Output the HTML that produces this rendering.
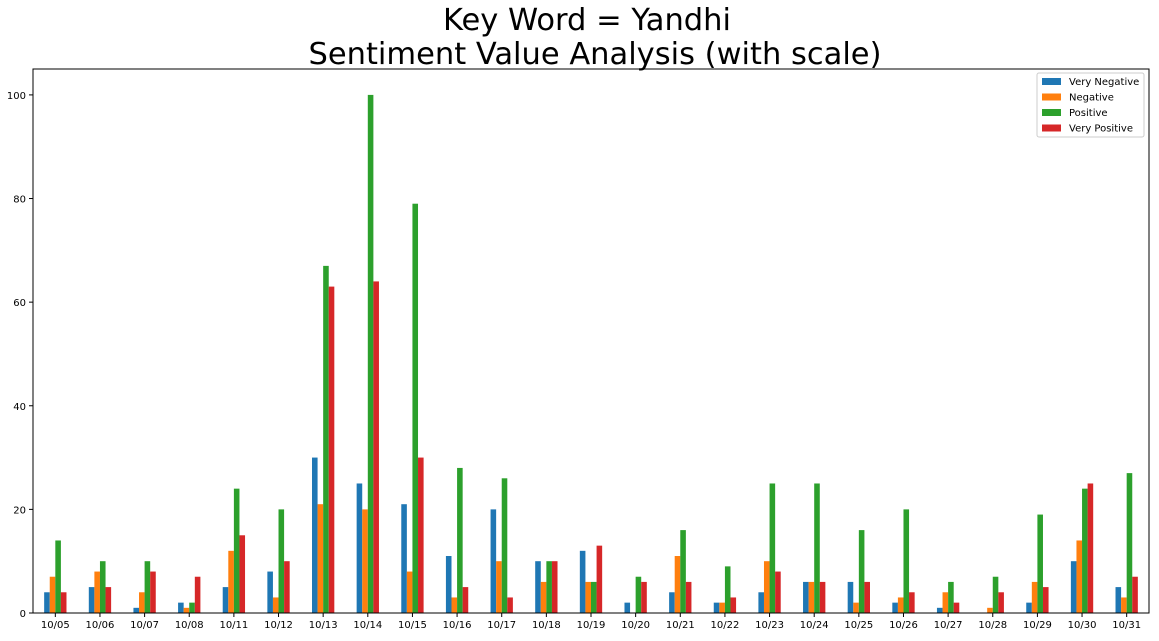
<!DOCTYPE html>
<html><head><meta charset="utf-8"><style>
body{margin:0;background:#fff;font-family:"DejaVu Sans","Liberation Sans",sans-serif;}
</style></head><body>
<svg id="chart" width="1159" height="637" xmlns="http://www.w3.org/2000/svg" font-family="DejaVu Sans, Liberation Sans, sans-serif">
<text x="587" y="30" font-size="30.5" text-anchor="middle">Key Word = Yandhi</text>
<text x="595" y="64" font-size="30.5" text-anchor="middle">Sentiment Value Analysis (with scale)</text>
<g id="bars"></g>
<g id="axes"></g>
</svg>
<script>
const categories=["10/05","10/06","10/07","10/08","10/11","10/12","10/13","10/14","10/15","10/16","10/17","10/18","10/19","10/20","10/21","10/22","10/23","10/24","10/25","10/26","10/27","10/28","10/29","10/30","10/31"];
const veryNegative=[4,5,1,2,5,8,30,25,21,11,20,10,12,2,4,2,4,6,6,2,1,0,2,10,5];
const negative=[7,8,4,1,12,3,21,20,8,3,10,6,6,0,11,2,10,6,2,3,4,1,6,14,3];
const positive=[14,10,10,2,24,20,67,100,79,28,26,10,6,7,16,9,25,25,16,20,6,7,19,24,27];
const veryPositive=[4,5,8,7,15,10,63,64,30,5,3,10,13,6,6,3,8,6,6,4,2,4,5,25,7];
const yTicks=[0,20,40,60,80,100];
const seriesNames=["Very Negative","Negative","Positive","Very Positive"];
const colors=["#1f77b4","#ff7f0e","#2ca02c","#d62728"];
const series=[veryNegative,negative,positive,veryPositive];
const NS="http://www.w3.org/2000/svg";
const L=33,R=1149,T=69,B=613,yMax=105;
const bw=(R-L)/categories.length;
const x=i=>L+bw*(i+0.5);
const y=v=>B-(v/yMax)*(B-T);
function mk(tag,attrs,parent){const e=document.createElementNS(NS,tag);for(const k in attrs)e.setAttribute(k,attrs[k]);parent.appendChild(e);return e;}
const gb=document.getElementById('bars'),ga=document.getElementById('axes');
const barW=bw*0.5/4;
series.forEach((s,si)=>{s.forEach((v,i)=>{
 const r=mk('rect',{x:x(i)-bw*0.25+si*barW,y:y(v),width:barW,height:B-y(v),fill:colors[si]},gb);
 
 
});});
const frame=mk('rect',{x:L,y:T,width:R-L,height:B-T,fill:'none',stroke:'#000','stroke-width':1},ga);


yTicks.forEach(t=>{
 mk('line',{x1:L-4,x2:L,y1:y(t),y2:y(t),stroke:'#000'},ga);
 const tx=mk('text',{x:L-7,y:y(t)+4,'font-size':10,'text-anchor':'end'},ga);tx.textContent=t;
 
 
});
categories.forEach((c,i)=>{
 mk('line',{x1:x(i),x2:x(i),y1:B,y2:B+4,stroke:'#000'},ga);
 const tx=mk('text',{x:x(i),y:B+15,'font-size':10,'text-anchor':'middle'},ga);tx.textContent=c;
 
 
});
const lg=mk('g',{},ga);


mk('rect',{x:1037,y:73,width:107,height:64,fill:'#fff',stroke:'#ccc',rx:2},lg);
seriesNames.forEach((n,i)=>{
 const yy=82+i*15.5;
 mk('rect',{x:1042,y:yy-4,width:19,height:7,fill:colors[i]},lg);
 const tx=mk('text',{x:1069,y:yy+3,'font-size':10},lg);tx.textContent=n;
 
 
});
</script>
</body></html>
